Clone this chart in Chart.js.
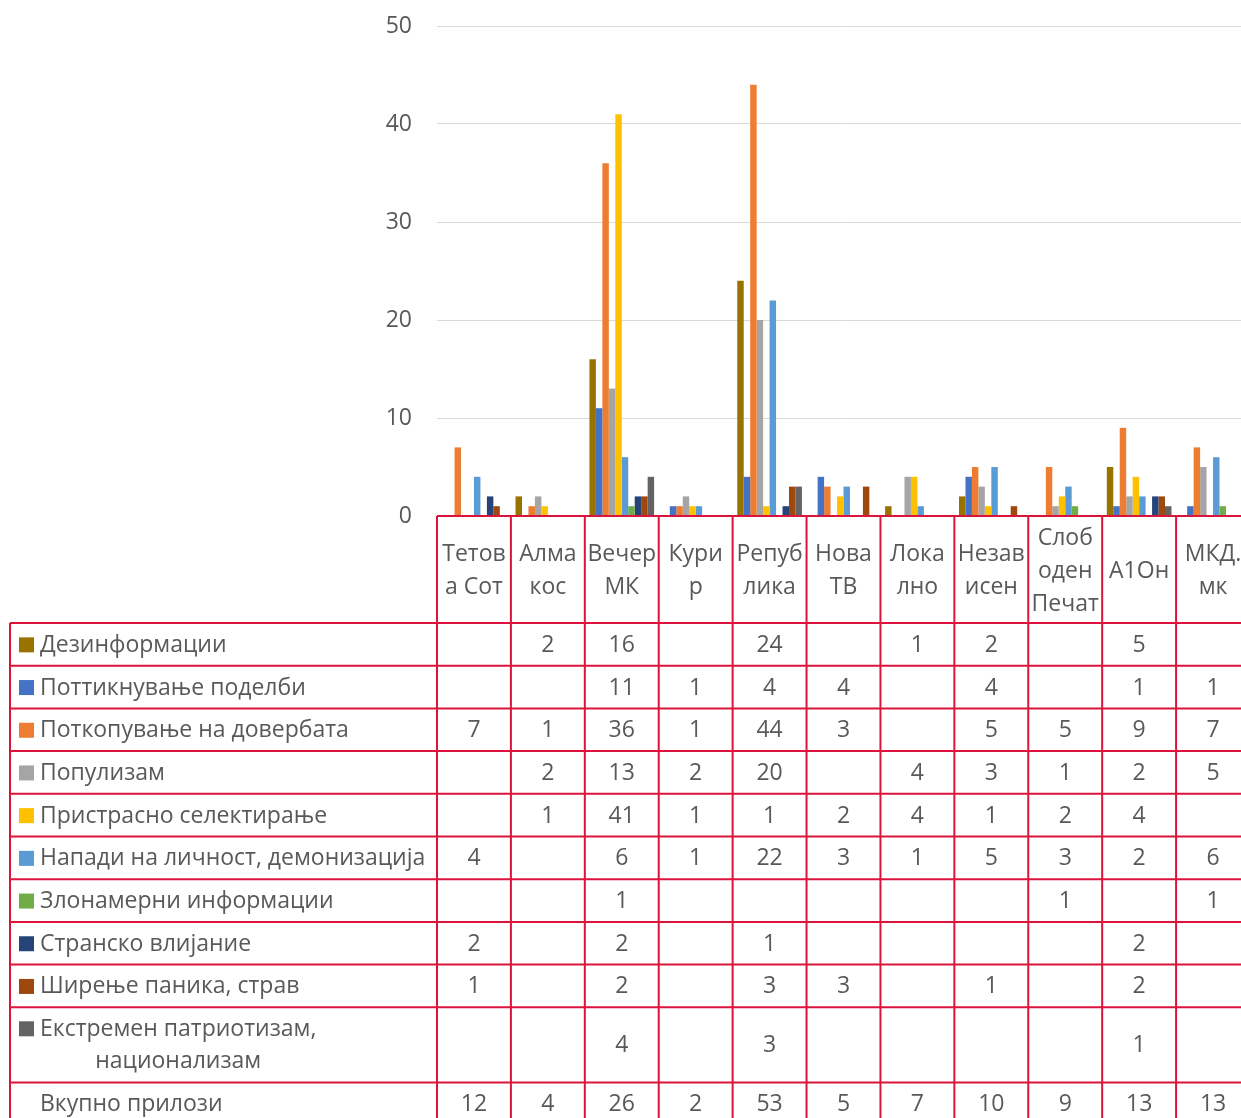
<!DOCTYPE html>
<html><head><meta charset="utf-8">
<script src="https://cdn.jsdelivr.net/npm/chart.js@4.4.1/dist/chart.umd.min.js"></script>
<style>
html,body{margin:0;padding:0;overflow:hidden;background:#fff;}
#wrap{position:relative;width:1250px;height:1118px;}
</style></head><body>
<div id="wrap"><canvas id="c"></canvas></div>
<script>
// ---------- DATA ----------
const categories = [["Тетов","а Сот"],["Алма","кос"],["Вечер","МК"],["Кури","р"],["Репуб","лика"],["Нова","ТВ"],["Лока","лно"],["Незав","исен"],["Слоб","оден","Печат"],["А1Он"],["МКД.","мк"]];
const seriesNames = ["Дезинформации","Поттикнување поделби","Поткопување на довербата","Популизам","Пристрасно селектирање","Напади на личност, демонизација","Злонамерни информации","Странско влијание","Ширење паника, страв","Екстремен патриотизам, национализам"];
const dezinformacii = [null,2,16,null,24,null,1,2,null,5,null];
const pottiknuvanje = [null,null,11,1,4,4,null,4,null,1,1];
const potkopuvanje  = [7,1,36,1,44,3,null,5,5,9,7];
const populizam     = [null,2,13,2,20,null,4,3,1,2,5];
const pristrasno    = [null,1,41,1,1,2,4,1,2,4,null];
const napadi        = [4,null,6,1,22,3,1,5,3,2,6];
const zlonamerni    = [null,null,1,null,null,null,null,null,1,null,1];
const stransko      = [2,null,2,null,1,null,null,null,null,2,null];
const sirenje       = [1,null,2,null,3,3,null,1,null,2,null];
const ekstremen     = [null,null,4,null,3,null,null,null,null,1,null];
const totalLabel = "Вкупно прилози";
const totals = [12,4,26,2,53,5,7,10,9,13,13];
const yTicks = [0,10,20,30,40,50];

// ---------- STYLE ----------
const seriesData = [dezinformacii,pottiknuvanje,potkopuvanje,populizam,pristrasno,napadi,zlonamerni,stransko,sirenje,ekstremen];
const colors = ["#997300","#4472C4","#ED7D31","#A5A5A5","#FFC000","#5B9BD5","#70AD47","#264478","#9E480E","#636363"];
const FONT_FAMILY = '"Open Sans"';
const FONT_SIZE = 23;
const TEXT = '#595959';
const RED = '#DC143C';

const tablePlugin = {
  id: 'dataTable',
  afterDraw(chart){
    const ctx = chart.ctx;
    const x = chart.scales.x, y = chart.scales.y;
    const n = categories.length;
    const cw = x.getPixelForValue(1) - x.getPixelForValue(0);
    const bounds = [];
    for (let i = 0; i < n; i++) bounds.push(x.getPixelForValue(i) - cw/2);
    bounds.push(x.getPixelForValue(n-1) + cw/2);
    const axisY = y.getPixelForValue(0);
    const bandBottom = 623;
    const tableLeft = 10;
    const rowH = 42.7, dblH = 75.3;
    const heights = seriesNames.map((s,i)=> i === seriesNames.length-1 ? dblH : rowH);
    heights.push(rowH);
    const tops = [bandBottom];
    heights.forEach(h => tops.push(tops[tops.length-1] + h));
    const right = bounds[n];

    ctx.save();
    ctx.font = FONT_SIZE + 'px ' + FONT_FAMILY;
    ctx.fillStyle = TEXT;
    ctx.textBaseline = 'middle';
    ctx.textAlign = 'center';
    const bandMid = (axisY + bandBottom)/2 + 1.5;
    const lh = 33;
    categories.forEach((lines, i) => {
      const cx = x.getPixelForValue(i);
      const start = bandMid - (lines.length-1)*lh/2;
      lines.forEach((t, k) => ctx.fillText(t, cx, start + k*lh));
    });
    const rowsData = seriesData.concat([totals]);
    rowsData.forEach((arr, r) => {
      const top = tops[r];
      const h = heights[r];
      const isDbl = r === seriesNames.length-1;
      const cy = isDbl ? top + 22 : top + h/2 + 1;
      ctx.textAlign = 'center';
      ctx.fillStyle = TEXT;
      arr.forEach((v, i) => {
        if (v === null || v === undefined) return;
        ctx.fillText(String(v), x.getPixelForValue(i), top + h/2 + 1);
      });
      ctx.textAlign = 'left';
      if (r < seriesNames.length) {
        ctx.fillStyle = colors[r];
        ctx.fillRect(19, cy - 8, 15, 15);
        ctx.fillStyle = TEXT;
        const name = seriesNames[r];
        if (isDbl) {
          const parts = name.split(', ');
          const l1 = parts[0] + ',';
          const l2 = parts[1];
          ctx.fillText(l1, 40, cy);
          const w1 = ctx.measureText(l1).width;
          const w2 = ctx.measureText(l2).width;
          ctx.fillText(l2, 40 + (w1 - w2)/2, cy + 32);
        } else {
          ctx.fillText(name, 40, cy);
        }
      } else {
        ctx.fillStyle = TEXT;
        ctx.fillText(totalLabel, 40, cy);
      }
    });
    ctx.strokeStyle = RED;
    ctx.lineWidth = 2;
    ctx.beginPath();
    ctx.moveTo(bounds[0], axisY); ctx.lineTo(right, axisY);
    tops.forEach(t => { ctx.moveTo(tableLeft, t); ctx.lineTo(right, t); });
    ctx.moveTo(tableLeft, bandBottom); ctx.lineTo(tableLeft, tops[tops.length-1]);
    bounds.forEach(b => { ctx.moveTo(b, axisY); ctx.lineTo(b, tops[tops.length-1]); });
    ctx.stroke();
    ctx.restore();
  }
};

function draw(){
  new Chart(document.getElementById('c'), {
    type: 'bar',
    data: {
      labels: categories.map(l => l.join(' ')),
      datasets: seriesNames.map((name, i) => ({
        label: name,
        data: seriesData[i],
        backgroundColor: colors[i],
        borderWidth: 0,
        categoryPercentage: 0.875,
        barPercentage: 1.0
      }))
    },
    options: {
      responsive: true,
      maintainAspectRatio: false,
      animation: false,
      events: [],
      layout: { padding: { top: 26, bottom: 602, left: 0, right: 0 } },
      plugins: { legend: { display: false }, tooltip: { enabled: false } },
      scales: {
        x: { display: false, offset: true },
        y: {
          min: yTicks[0], max: yTicks[yTicks.length-1],
          afterFit: s => { s.width = 437; s.paddingTop = 0; s.paddingBottom = 0; },
          afterBuildTicks: s => { s.ticks = yTicks.map(v => ({ value: v })); },
          border: { display: false },
          grid: { color: '#D9D9D9', lineWidth: 1, drawTicks: false },
          ticks: { color: TEXT, padding: 25, font: { family: FONT_FAMILY, size: 23 } }
        }
      }
    },
    plugins: [tablePlugin]
  });
}
document.fonts.load('23px "Open Sans"').then(draw, draw);
</script>
</body></html>
